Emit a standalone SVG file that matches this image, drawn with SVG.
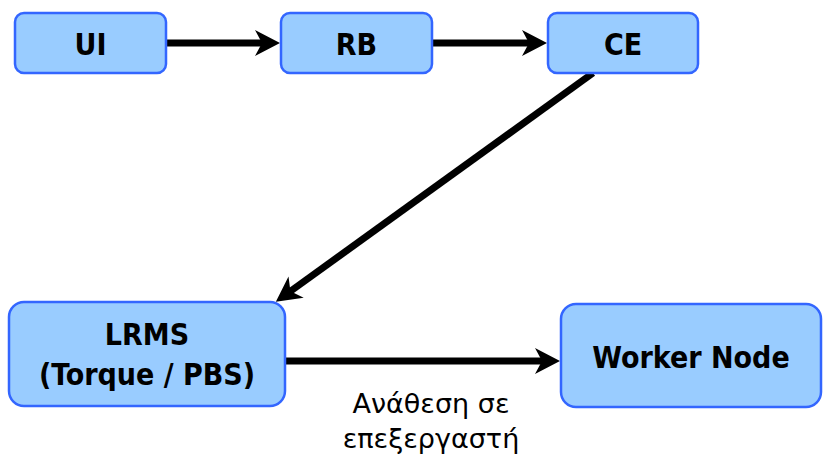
<svg xmlns="http://www.w3.org/2000/svg" width="823" height="460" viewBox="0 0 823 460">
  <defs>
    <style>
      .box { fill: #99CCFF; stroke: #3366FF; stroke-width: 2.5; }
      .lbl { font-family: "DejaVu Sans Condensed", "DejaVu Sans", sans-serif; font-stretch: condensed; font-weight: bold; font-size: 30px; fill: #000; text-anchor: middle; }
      .edge { stroke: #000; stroke-width: 7; fill: none; }
      .elbl { font-family: "DejaVu Sans", sans-serif; font-size: 27px; fill: #000; text-anchor: middle; }
    </style>
    <marker id="arr" markerUnits="userSpaceOnUse" markerWidth="40" markerHeight="40" viewBox="-20 -20 40 40" refX="0" refY="0" orient="auto">
      <path d="M15,0 L-10,-13 L-3,0 L-10,13 Z" fill="#000"/>
    </marker>
  </defs>
  <rect width="823" height="460" fill="#fff"/>
  <g id="connectors">
    <line class="edge" x1="166" y1="43" x2="265" y2="43" marker-end="url(#arr)"/>
    <line class="edge" x1="432" y1="43" x2="532" y2="43" marker-end="url(#arr)"/>
    <line class="edge" x1="593" y1="73" x2="288" y2="293" marker-end="url(#arr)"/>
    <line class="edge" x1="285" y1="361" x2="545" y2="361" marker-end="url(#arr)"/>
    <text class="elbl" x="431" y="413">Ανάθεση σε</text>
    <text class="elbl" x="431" y="448">επεξεργαστή</text>
  </g>
  <g id="node-ui">
    <rect class="box" x="15" y="13" width="151" height="60" rx="9"/>
    <text class="lbl" x="90.5" y="55">UI</text>
  </g>
  <g id="node-rb">
    <rect class="box" x="281" y="13" width="151" height="60" rx="9"/>
    <text class="lbl" x="356.5" y="55">RB</text>
  </g>
  <g id="node-ce">
    <rect class="box" x="548" y="13" width="150" height="60" rx="9"/>
    <text class="lbl" x="623" y="55">CE</text>
  </g>
  <g id="node-lrms">
    <rect class="box" x="9" y="302" width="276" height="104" rx="15"/>
    <text class="lbl" x="147" y="345">LRMS</text>
    <text class="lbl" x="147" y="385">(Torque / PBS)</text>
  </g>
  <g id="node-worker">
    <rect class="box" x="561" y="304" width="260" height="103" rx="15"/>
    <text class="lbl" x="691" y="368">Worker Node</text>
  </g>
</svg>
